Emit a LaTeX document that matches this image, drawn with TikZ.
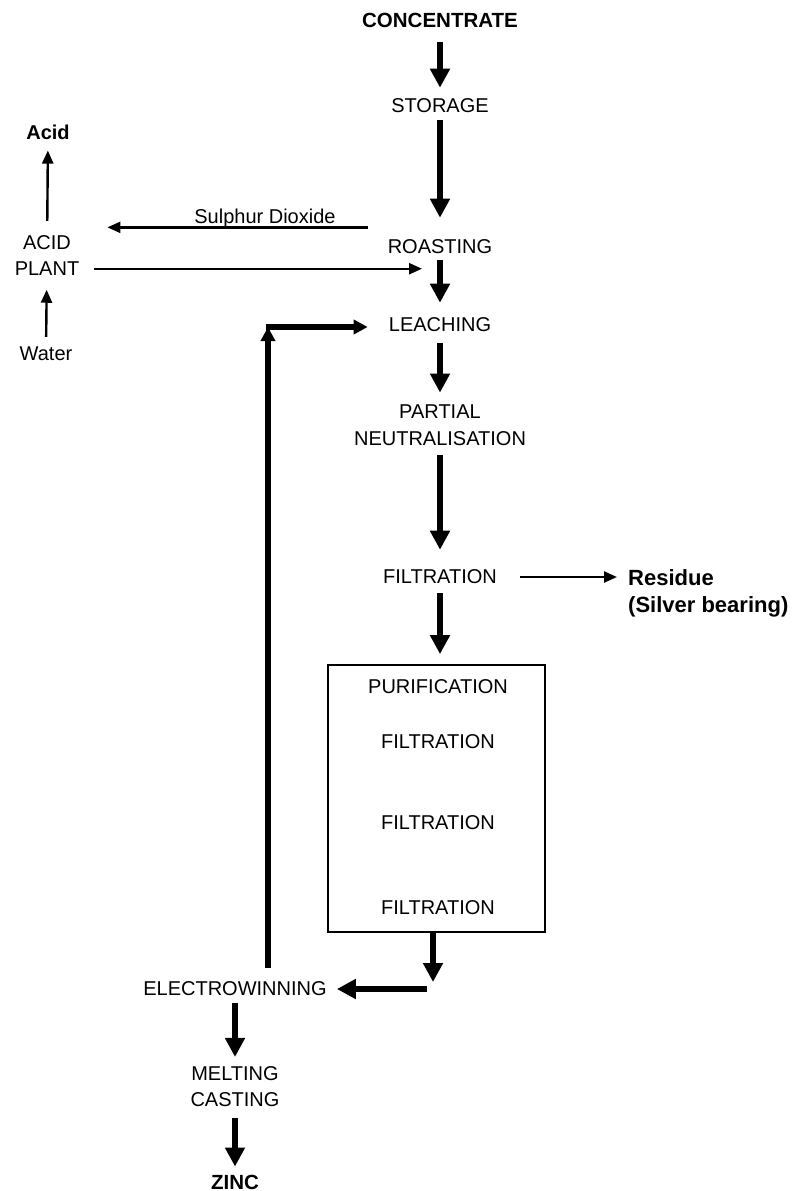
\documentclass[tikz,border=0pt]{standalone}
\usepackage{fontspec}
\setmainfont{Liberation Sans}
\usetikzlibrary{arrows.meta,positioning}

\begin{document}
\begin{tikzpicture}[
  x=1pt, y=-1pt,
  font=\fontsize{20}{26.5}\selectfont,
  stage/.style={inner sep=0pt, align=center},
  feed/.style={stage, font=\fontsize{20.5}{26.5}\selectfont\bfseries},
  heavy/.style={-{Triangle[length=19pt,width=19pt]}, line width=6.5pt},
  medium/.style={-{Triangle[length=14pt,width=14pt]}, line width=5.5pt},
  flow/.style={-{Triangle[length=13pt,width=11pt]}, line width=2.4pt}
]
\useasboundingbox (0,0) rectangle (796,1191);

% main line
\node[feed] (conc) at (440,20) {CONCENTRATE};
\node[stage] (storage) at (440,106) {STORAGE};
\node[stage] (roast) at (440,247) {ROASTING};
\node[stage] (leach) at (440,325) {LEACHING};
\node[stage] (partial) at (440,425) {PARTIAL\\NEUTRALISATION};
\node[stage] (filt) at (440,577) {FILTRATION};
\node[draw, line width=1.8pt, minimum width=217pt, minimum height=267pt] (purbox) at (436.5,798.5) {};
\node[stage] (purif) at (438,687) {PURIFICATION};
\node[stage] (filta) at (438,742) {FILTRATION};
\node[stage] (filtb) at (438,823) {FILTRATION};
\node[stage] (filtc) at (438,908) {FILTRATION};
\node[stage] (elec) at (235,989) {ELECTROWINNING};
\node[stage] (melt) at (235,1086.5) {MELTING\\CASTING};
\node[feed] (zinc) at (235,1182) {ZINC};

% acid plant side
\node[feed, font=\fontsize{20}{26.5}\selectfont\bfseries] (acid) at (48,132) {Acid};
\node[stage] (acidplant) at (47,255.3) {ACID\\PLANT};
\node[stage] (water) at (46,354) {Water};
\node[stage, anchor=base] (so2) at (265,223) {Sulphur Dioxide};
\node[feed, font=\fontsize{22}{27}\selectfont\bfseries, align=left, anchor=west] (residue) at (628,593) {Residue\\(Silver bearing)};

\coordinate (drop) at (433,982);
\coordinate (bend) at (427,989);
\coordinate (loop) at (268,327);

\draw[heavy, shorten <=15pt, shorten >=11pt] (conc) -- (storage);
\draw[heavy, shorten <=7pt, shorten >=22pt] (storage) -- (roast);
\draw[heavy, shorten <=6pt, shorten >=15pt] (roast) -- (leach);
\draw[heavy, shorten <=11pt, shorten >=12pt] (leach) -- (partial);
\draw[heavy, shorten <=10pt, shorten >=20pt] (partial) -- (filt);
\draw[heavy, shorten <=9pt, shorten >=10pt] (filt) -- (filt.south |- purbox.north);
\draw[heavy] (purbox.south -| drop) -- (drop);
\draw[heavy, shorten >=10pt] (bend) -- (bend -| elec.east);
\draw[heavy, shorten <=7pt, shorten >=9pt] (elec) -- (melt);
\draw[heavy, shorten <=11pt, shorten >=8pt] (melt) -- (zinc);

\draw[medium, shorten <=14pt] (elec.north -| loop) -- (loop);
\draw[medium, shorten >=21pt] ([xshift=-2.5pt]loop) -- (loop -| leach.west);

\draw[flow, shorten <=20pt, shorten >=28pt] (roast.west |- so2.south) -- (acidplant.east |- so2.south);
\draw[flow, shorten <=15pt, shorten >=18pt] ([yshift=7pt]acidplant.south east) -- ([yshift=7pt]acidplant.south east -| roast.south);
\draw[flow, shorten <=14pt, shorten >=11pt] (acidplant) -- (acid);
\draw[flow, shorten <=10pt, shorten >=14pt] (water) -- (acidplant);
\draw[flow, shorten <=23pt, shorten >=11pt] (filt.east) -- (filt.east -| residue.west);
\end{tikzpicture}
\end{document}
